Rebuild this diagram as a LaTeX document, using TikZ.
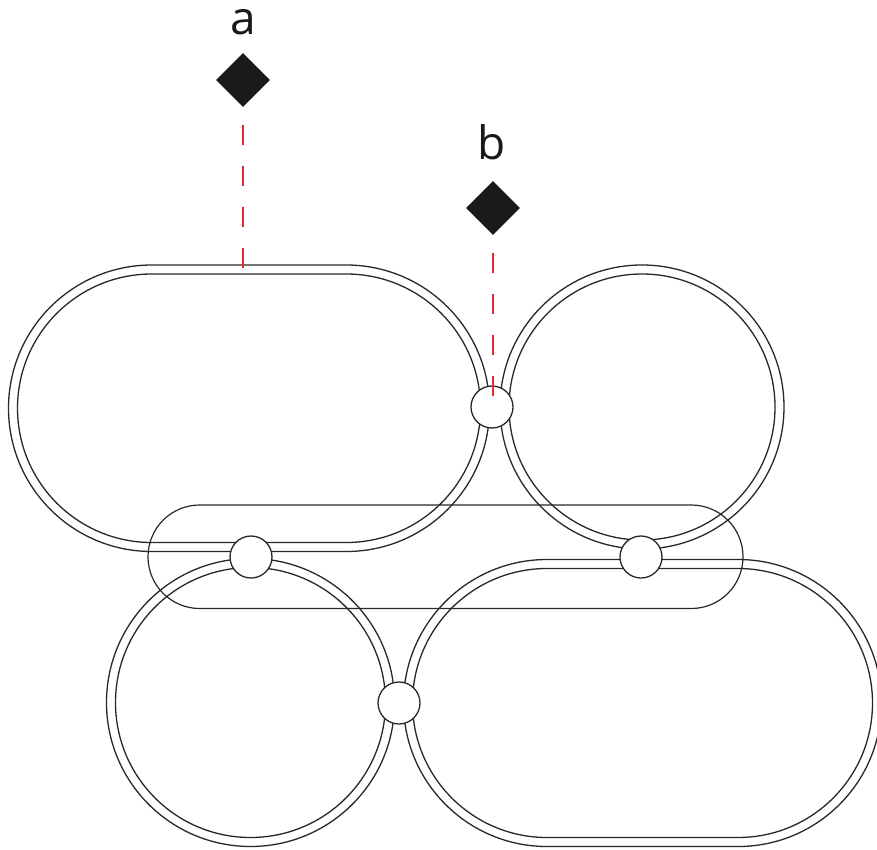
\documentclass[tikz,border=0pt]{standalone}
\usepackage{fontspec}
\setmainfont{Open Sans}
\usetikzlibrary{shapes.geometric}
\definecolor{dashred}{RGB}{230,40,50}
\definecolor{ink}{RGB}{40,40,40}
\tikzset{
  rail/.style={draw=ink, line width=1.3pt},
  hub/.style={circle, draw=ink, line width=1.3pt, fill=white, minimum size=42pt, inner sep=0pt},
  marker/.style={diamond, fill=black!90, minimum width=54pt, minimum height=54pt, inner sep=0pt},
  lbl/.style={anchor=base, font=\fontsize{46}{50}\selectfont, text=black!90},
  guide/.style={draw=dashred, line width=1.5pt, dash pattern=on 20pt off 21pt},
}
\begin{document}
\begin{tikzpicture}[x=1pt,y=-1pt]
\useasboundingbox (0,0) rectangle (877,850);
\clip (0,0) rectangle (877,850);
\fill[white] (0,0) rectangle (877,850);
% top-left stadium (double)
\draw[rail, rounded corners=143.25pt] (8.5,265) rectangle (489.5,551.5);
\draw[rail, rounded corners=134.25pt] (17.5,274) rectangle (480.5,542.5);
% top-right circle (double)
\draw[rail] (642,407) circle[radius=142pt];
\draw[rail] (642,407) circle[radius=133pt];
% middle stadium (single)
\draw[rail, line width=1.2pt, rounded corners=51.7pt] (148,505) rectangle (743,608.5);
% bottom-left circle (double)
\draw[rail] (250.5,702.5) circle[radius=144pt];
\draw[rail] (250.5,702.5) circle[radius=135pt];
% bottom-right stadium (double)
\draw[rail, rounded corners=143.5pt] (403.5,559.5) rectangle (881.5,846.5);
\draw[rail, rounded corners=134.5pt] (412.5,568.5) rectangle (872.5,837.5);
% junction circles
\node[hub] (j1) at (492,407) {};
\node[hub] (j2) at (251,557) {};
\node[hub] (j3) at (641,557) {};
\node[hub] (j4) at (399,703) {};
% markers
\node[marker] (da) at (243,80) {};
\node[marker] (db) at (493,208) {};
\node[lbl] (la) at (243,35) {a};
\node[lbl] (lb) at (492,160) {b};
\coordinate (ea0) at (243,125);
\coordinate (ea1) at (243,268);
\coordinate (eb0) at (493,253);
\coordinate (eb1) at (493,396);
\draw[guide] (ea0) -- (ea1);
\draw[guide] (eb0) -- (eb1);
\end{tikzpicture}
\end{document}
